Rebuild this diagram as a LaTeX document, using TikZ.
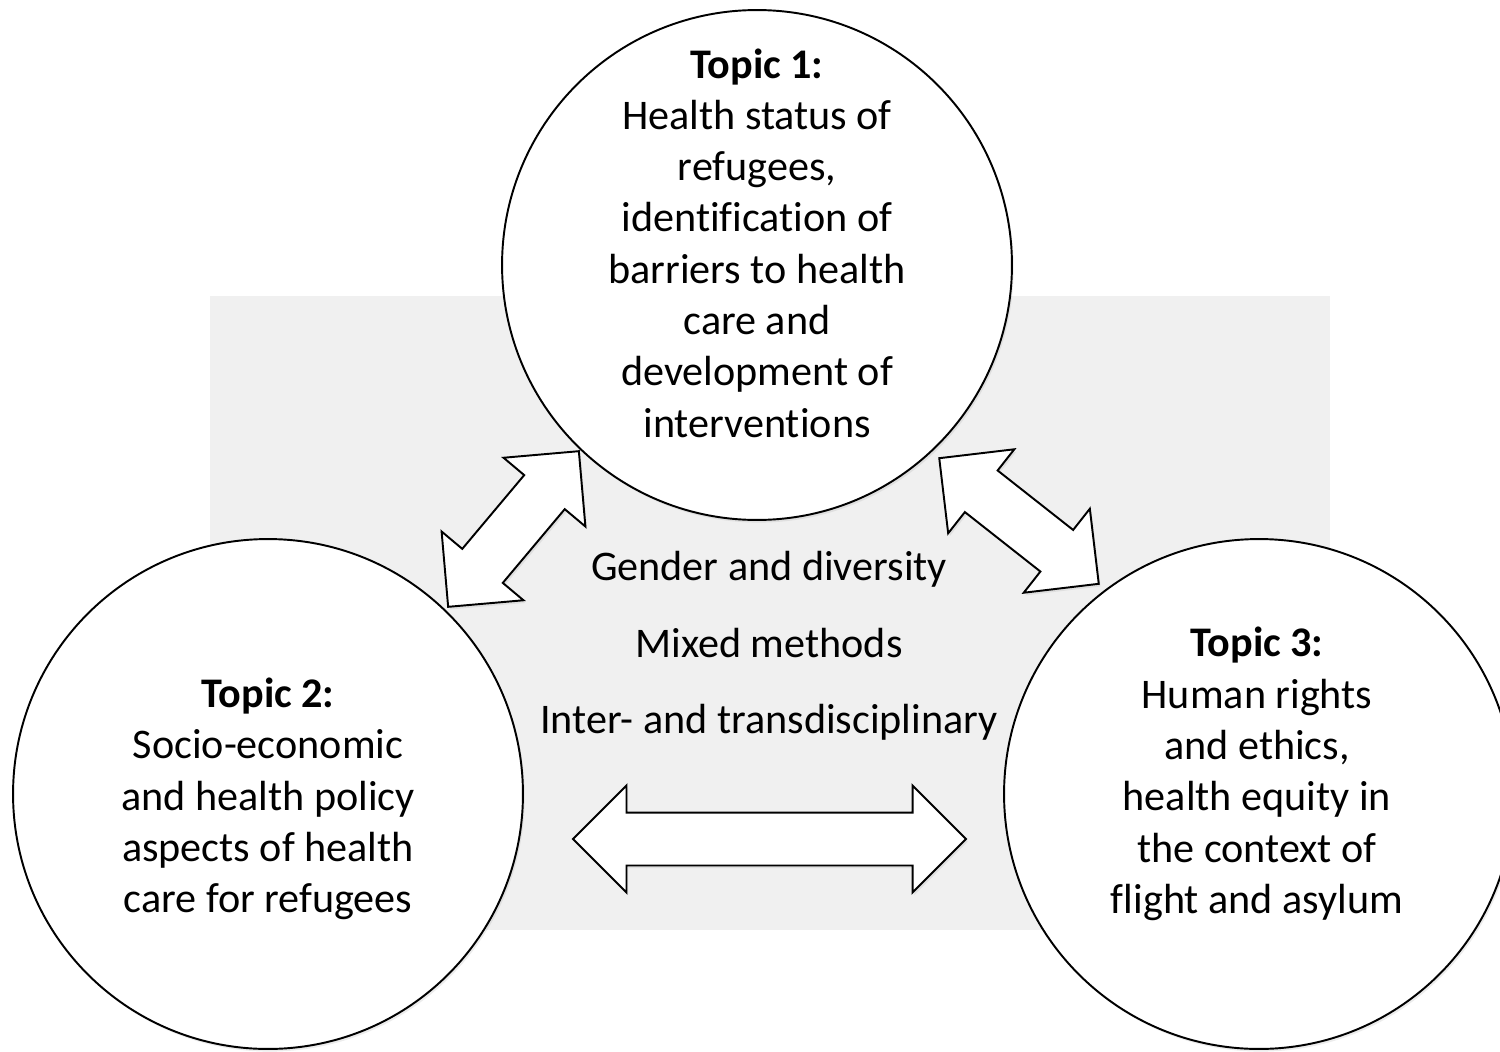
\documentclass[tikz,border=0pt]{standalone}
\usepackage{fontspec}
\setmainfont{Carlito}[Ligatures=NoCommon]
\usetikzlibrary{calc, shapes.arrows, shadows}

\tikzset{
    topic/.style={circle, draw, line width=1.1pt, fill=white, minimum size=10.2cm, inner sep=0pt,
        drop shadow={opacity=0.15, shadow xshift=1pt, shadow yshift=-1.5pt}},
    topictext/.style={align=center, font=\fontsize{24}{29.2}\selectfont},
    theme/.style={anchor=base, font=\fontsize{24}{29.2}\selectfont},
    blockarrow/.style={shape=double arrow, draw, line width=1.1pt, fill=white,
        double arrow tip angle=90, double arrow head extend=0.54cm,
        inner xsep=0pt, inner ysep=0.51cm,
        drop shadow={opacity=0.15, shadow xshift=1pt, shadow yshift=-1.5pt}}
}

% block arrow from #1 to #2, named #3
\newcommand\blockarrowbetween[3]{%
    \path let \p1=(#1), \p2=(#2),
        \n1={atan2(\y2-\y1,\x2-\x1)}, \n2={veclen(\x2-\x1,\y2-\y1)} in
        node[blockarrow, minimum height=\n2, rotate=\n1] (#3) at ($(#1)!0.5!(#2)$) {};}

\begin{document}
\begin{tikzpicture}[x=0.02cm, y=-0.02cm]
    \useasboundingbox (0,0) rectangle (1500,1051);
    \clip (0,0) rectangle (1500,1051);
    \fill[black!6] (210,296) rectangle (1330,930);

    \node[theme] (gender) at (769,580) {Gender and diversity};
    \node[theme] (mixed) at (769,657) {Mixed methods};
    \node[theme] (inter) at (769,733) {Inter- and transdisciplinary};

    \node[topic] (topic1) at (757,265) {};
    \node[topic] (topic2) at (268,794) {};
    \node[topic] (topic3) at (1259,794) {};

    \node[topictext] (text1) at (757,243) {\textbf{Topic 1:}\\Health status of\\refugees,\\identification of\\barriers to health\\care and\\development of\\interventions};
    \node[topictext] (text2) at (268,799) {\textbf{Topic 2:}\\Socio-economic\\and health policy\\aspects of health\\care for refugees};
    \node[topictext] (text3) at (1257,774) {\textbf{Topic 3:}\\Human rights\\and ethics,\\health equity in\\the context of\\flight and asylum};

    \coordinate (a12) at (448,607);
    \coordinate (b12) at (579,451);
    \coordinate (a13) at (939,458);
    \coordinate (b13) at (1099,584);
    \coordinate (a23) at (573,839);
    \coordinate (b23) at (966,839);
    \blockarrowbetween{a12}{b12}{arrow12}
    \blockarrowbetween{a13}{b13}{arrow13}
    \blockarrowbetween{a23}{b23}{arrow23}
\end{tikzpicture}
\end{document}
